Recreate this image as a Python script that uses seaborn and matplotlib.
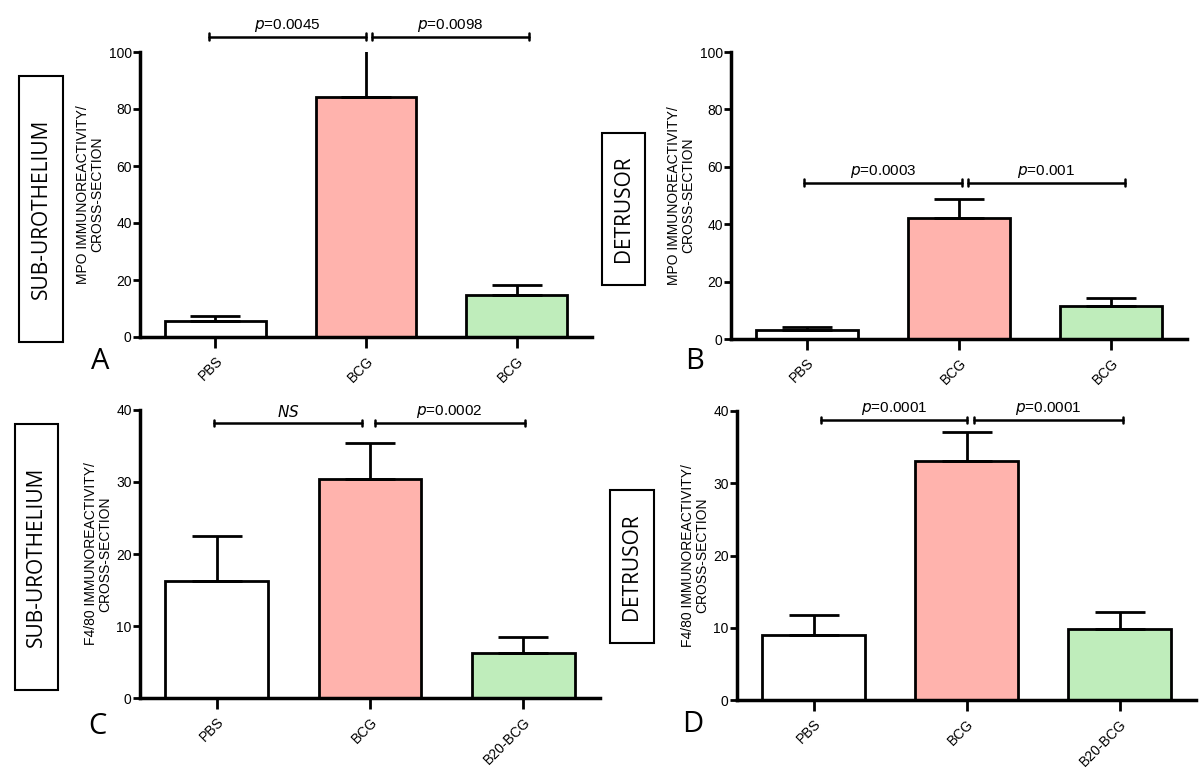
import matplotlib
matplotlib.use('Agg')
import matplotlib.pyplot as plt
from matplotlib.patches import Rectangle
import numpy as np
import pandas as pd
import seaborn as sns

# values
groupsTop = ['PBS', 'BCG', 'BCG']
groupsBottom = ['PBS', 'BCG', 'B20-BCG']

meanA = [5.6, 84.2, 14.7]
errA = [1.8, 18.0, 3.5]
meanB = [3.1, 42.2, 11.5]
errB = [1.1, 6.6, 2.8]
meanC = [16.25, 30.4, 6.25]
errC = [6.25, 5.0, 2.25]
meanD = [9.0, 33.1, 9.8]
errD = [2.8, 4.0, 2.4]

pA = ['0.0045', '0.0098']
pB = ['0.0003', '0.001']
pC = ['NS', '0.0002']
pD = ['0.0001', '0.0001']

regionLabels = ['SUB-UROTHELIUM', 'DETRUSOR', 'SUB-UROTHELIUM', 'DETRUSOR']
panelLetters = ['A', 'B', 'C', 'D']
ylabelMPO = 'MPO IMMUNOREACTIVITY/\nCROSS-SECTION'
ylabelF480 = 'F4/80 IMMUNOREACTIVITY/\nCROSS-SECTION'

bar_colors = ['#FFFFFF', '#FFB3AD', '#BFEDBB']

sns.set_style('ticks')
plt.rcParams['font.family'] = ['Liberation Sans', 'DejaVu Sans']
plt.rcParams['axes.edgecolor'] = 'black'
plt.rcParams['xtick.color'] = 'black'
plt.rcParams['ytick.color'] = 'black'
plt.rcParams['text.color'] = 'black'
plt.rcParams['axes.labelcolor'] = 'black'

fig = plt.figure(figsize=(12, 7.75), dpi=100)
W, H = 1200.0, 775.0

# axes boxes in pixels: left, top, right, bottom
axPix = [
    (140, 52, 592, 337),
    (731, 52, 1187, 339),
    (140, 410, 600, 698),
    (737, 411, 1196, 700),
]
# rectangle label boxes (pixels: x0, ytop, w, h)
boxPix = [
    (19, 76, 44, 266),
    (602, 133, 43, 152),
    (15, 424, 43, 266),
    (610, 490, 44, 153),
]
letterPix = [(100, 362), (695, 362), (97, 726), (693, 725)]
# bracket x extents (data units)
bracketX = [
    [(-0.04, 1.0), (1.04, 2.08)],
    [(-0.02, 1.02), (1.06, 2.09)],
    [(-0.02, 0.95), (1.03, 2.01)],
    [(0.05, 1.0), (1.05, 2.02)],
]

panels = [
    (groupsTop, meanA, errA, pA, 100, 20, 105.4, ylabelMPO),
    (groupsTop, meanB, errB, pB, 100, 20, 54.4, ylabelMPO),
    (groupsBottom, meanC, errC, pC, 40, 10, 38.2, ylabelF480),
    (groupsBottom, meanD, errD, pD, 40, 10, 38.75, ylabelF480),
]

for k, (groups, means, errs, pvals, ymax, ystep, ybr, ylab) in enumerate(panels):
    l, t, r, b = axPix[k]
    ax = fig.add_axes([l / W, 1 - b / H, (r - l) / W, (b - t) / H])
    df = pd.DataFrame({'grp': [str(i) for i in range(3)], 'val': means})
    sns.barplot(data=df, x='grp', y='val', hue='grp', palette=bar_colors,
                saturation=1, edgecolor='black', linewidth=2, width=0.67,
                legend=False, ax=ax)
    ax.errorbar(range(3), means, yerr=[np.zeros(3), errs], fmt='none',
                ecolor='black', elinewidth=2, capsize=18, capthick=2, zorder=5)
    ax.set_xlim(-0.5, 2.5)
    ax.set_ylim(0, ymax)
    ax.set_yticks(np.arange(0, ymax + 1, ystep))
    ax.set_xticks(range(3))
    ax.set_xticklabels(groups, rotation=45, ha='right', rotation_mode='anchor', fontsize=10)
    ax.tick_params(axis='y', labelsize=10, width=2, length=5, pad=1)
    ax.tick_params(axis='x', width=2, length=8, pad=4)
    ax.set_xlabel('')
    ax.set_ylabel(ylab, fontsize=10, labelpad=3, linespacing=1.0)
    for side in ['left', 'bottom']:
        ax.spines[side].set_linewidth(2.5)
    sns.despine(ax=ax)

    # significance brackets
    tick = ymax * 0.012
    for (x0, x1), ptxt in zip(bracketX[k], pvals):
        ax.plot([x0, x1], [ybr, ybr], color='black', lw=1.8, clip_on=False)
        ax.plot([x0, x0], [ybr - tick, ybr + tick], color='black', lw=1.8, clip_on=False)
        ax.plot([x1, x1], [ybr - tick, ybr + tick], color='black', lw=1.8, clip_on=False)
        if ptxt == 'NS':
            label = r'$\it{NS}$'
        else:
            label = r'$\it{p}$=' + ptxt
        ax.text((x0 + x1) / 2, ybr + ymax * 0.01, label, ha='center', va='bottom',
                fontsize=11, clip_on=False)

    # region box
    bx, by, bw, bh = boxPix[k]
    fig.patches.append(Rectangle((bx / W, 1 - (by + bh) / H), bw / W, bh / H,
                                 transform=fig.transFigure, fill=False,
                                 edgecolor='black', linewidth=1.5))
    fig.text((bx + bw / 2) / W, 1 - (by + bh / 2) / H, regionLabels[k],
             rotation=90, ha='center', va='center', fontsize=15,
             family=['Open Sans', 'DejaVu Sans'])
    lx, ly = letterPix[k]
    fig.text(lx / W, 1 - ly / H, panelLetters[k], ha='center', va='center',
             fontsize=21, family=['Open Sans', 'DejaVu Sans'])

plt.savefig('out.png', dpi=100)
plt.close()
